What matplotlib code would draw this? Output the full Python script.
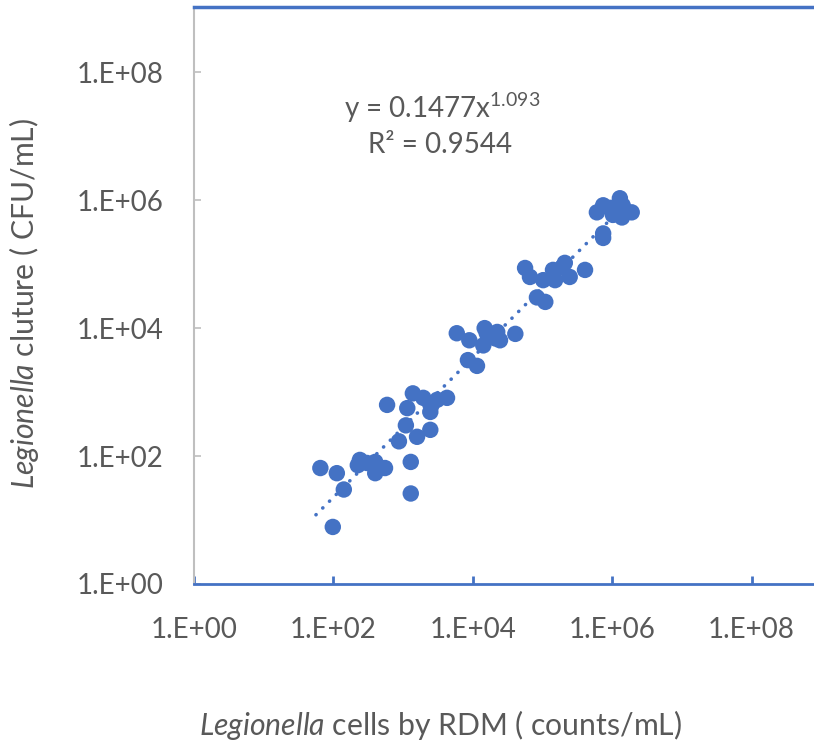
import numpy as np
import matplotlib.pyplot as plt

plt.rcParams['font.family'] = ['Lato', 'DejaVu Sans']
plt.rcParams['mathtext.fontset'] = 'custom'
plt.rcParams['mathtext.rm'] = 'Lato'
plt.rcParams['mathtext.it'] = 'Lato:italic'

# Legionella cells by RDM (counts/mL)
rdm = [65, 112, 141, 98, 240, 224, 302, 398, 398, 550,
       589, 871, 1096, 1148, 1288, 1288, 1380, 1585, 1950, 2455,
       2455, 2570, 3090, 4266,
       5890, 8913, 8511, 11480, 14790, 15850, 22390, 24550, 14130, 20890, 40740,
       56230, 66070, 102300, 141300, 190500, 208900, 245500, 407400, 83180, 109600, 151400,
       602600, 741300, 933300, 1288000, 1413000, 1905000, 1023000, 1380000, 741300, 741300]
# Legionella culture (CFU/mL)
culture = [65, 54, 30, 7.8, 87, 72, 78, 81, 54, 65,
           631, 170, 302, 562, 81, 26, 955, 200, 813, 490,
           257, 631, 759, 813,
           8318, 6457, 3162, 2570, 10000, 8318, 8710, 6457, 5370, 6918, 8128,
           87100, 63100, 56230, 81280, 89130, 104700, 63100, 81280, 30200, 25700, 56230,
           645700, 831800, 758600, 1072000, 831800, 645700, 588800, 537000, 302000, 257000]

fit_a = 0.1477
fit_b = 1.093
fit_r2 = 0.9544

ticks = [1e0, 1e2, 1e4, 1e6, 1e8]
tick_labels = ['1.E+00', '1.E+02', '1.E+04', '1.E+06', '1.E+08']

blue = '#4472C4'
grey = '#595959'

fig = plt.figure(figsize=(8.14, 7.44), dpi=100)
ax = fig.add_axes([194 / 814, 1 - 584 / 744, 620 / 814, 577 / 744])

ax.scatter(rdm, culture, s=140, color=blue, edgecolors='none', zorder=3)

# power-law trendline as shown on the chart
xf = np.logspace(1.75, 6.3, 100)
ax.plot(xf, fit_a * xf ** fit_b, color=blue, linewidth=2.6,
        linestyle=(0, (0.05, 2.6)), dash_capstyle='round', zorder=2)

ax.set_xscale('log')
ax.set_yscale('log')
ax.set_xlim(1, 10 ** 8.895)
ax.set_ylim(1, 10 ** 9.02)
ax.minorticks_off()
ax.set_xticks(ticks)
ax.set_xticklabels(tick_labels)
ax.set_yticks(ticks)
ax.set_yticklabels(tick_labels)

ax.tick_params(axis='x', direction='in', length=6, width=2, color=blue,
               labelsize=20, labelcolor=grey, pad=24)
ax.tick_params(axis='y', direction='in', length=5, width=1.2, color='#BFBFBF',
               labelsize=20, labelcolor=grey, pad=22)

ax.spines['right'].set_visible(False)
ax.spines['left'].set_color('#BFBFBF')
ax.spines['left'].set_linewidth(1.5)
ax.spines['bottom'].set_color(blue)
ax.spines['bottom'].set_linewidth(2)
ax.spines['top'].set_color(blue)
ax.spines['top'].set_linewidth(2.5)

fig.text(441 / 814, 1 - 725 / 744, r'$\mathit{Legionella}$ cells by RDM ( counts/mL)',
         ha='center', va='center', fontsize=21.7, color=grey)
fig.text(24 / 814, 1 - 303 / 744, r'$\mathit{Legionella}$ cluture ( CFU/mL)',
         ha='center', va='center', rotation=90, fontsize=21.7, color=grey)

fig.text(442 / 814, 1 - 108 / 744, r'y = %.4fx$^{\mathrm{%.3f}}$' % (fit_a, fit_b),
         ha='center', va='center', fontsize=20, color=grey)
fig.text(440 / 814, 1 - 145 / 744, 'R² = %.4f' % fit_r2,
         ha='center', va='center', fontsize=20, color=grey)

fig.savefig('out.png', dpi=100)
